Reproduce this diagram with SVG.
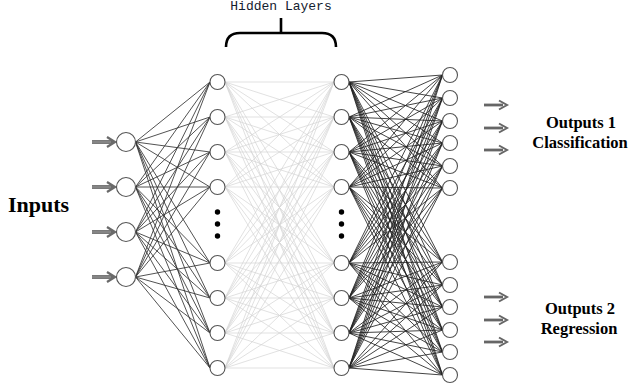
<svg xmlns="http://www.w3.org/2000/svg" xmlns:xlink="http://www.w3.org/1999/xlink" width="629" height="387" viewBox="0 0 629 387">
<style>
.n{fill:#fff;stroke:#555;stroke-width:1.1}
.dot{fill:#000}
.e1{fill:none;stroke:#333;stroke-width:0.85}
.e2{fill:none;stroke:#d4d4d4;stroke-width:0.7}
.e3{fill:none;stroke:#222;stroke-width:0.85}
.lbl{font-family:"Liberation Serif","Times New Roman",serif;font-weight:bold;fill:#000}
.hl{font-family:"Liberation Mono","DejaVu Sans Mono",monospace;font-size:13px;fill:#14202e}
</style>
<defs>
<g id="arr">
<path d="M0 0H21" stroke="#6a6a6a" stroke-width="3.8" fill="none"/>
<path d="M0 0H19" stroke="#a0a0a0" stroke-width="1" fill="none"/>
<path d="M15 -5L23 0L15 5" stroke="#6a6a6a" stroke-width="2.3" fill="none"/>
</g>
<g id="arr2">
<path d="M0 0H19" stroke="#666" stroke-width="2.8" fill="none"/>
<path d="M15 -4.5L23 0L15 4.5" stroke="#666" stroke-width="2" fill="none"/>
</g>
</defs>
<rect width="629" height="387" fill="#fff"/>

<g id="connectors">
<path class="e1" d="M135.5 142L210 82M135.5 142L210 117M135.5 142L210 152M135.5 142L210 187M135.5 142L210 263M135.5 142L210 298M135.5 142L210 333M135.5 142L210 368
M135.5 187L210 82M135.5 187L210 117M135.5 187L210 152M135.5 187L210 187M135.5 187L210 263M135.5 187L210 298M135.5 187L210 333M135.5 187L210 368
M135.5 232L210 82M135.5 232L210 117M135.5 232L210 152M135.5 232L210 187M135.5 232L210 263M135.5 232L210 298M135.5 232L210 333M135.5 232L210 368
M135.5 277L210 82M135.5 277L210 117M135.5 277L210 152M135.5 277L210 187M135.5 277L210 263M135.5 277L210 298M135.5 277L210 333M135.5 277L210 368"/>
<path class="e2" d="M225 82L334 82M225 82L334 117M225 82L334 152M225 82L334 187M225 82L334 263M225 82L334 298M225 82L334 333M225 82L334 368
M225 117L334 82M225 117L334 117M225 117L334 152M225 117L334 187M225 117L334 263M225 117L334 298M225 117L334 333M225 117L334 368
M225 152L334 82M225 152L334 117M225 152L334 152M225 152L334 187M225 152L334 263M225 152L334 298M225 152L334 333M225 152L334 368
M225 187L334 82M225 187L334 117M225 187L334 152M225 187L334 187M225 187L334 263M225 187L334 298M225 187L334 333M225 187L334 368
M225 263L334 82M225 263L334 117M225 263L334 152M225 263L334 187M225 263L334 263M225 263L334 298M225 263L334 333M225 263L334 368
M225 298L334 82M225 298L334 117M225 298L334 152M225 298L334 187M225 298L334 263M225 298L334 298M225 298L334 333M225 298L334 368
M225 333L334 82M225 333L334 117M225 333L334 152M225 333L334 187M225 333L334 263M225 333L334 298M225 333L334 333M225 333L334 368
M225 368L334 82M225 368L334 117M225 368L334 152M225 368L334 187M225 368L334 263M225 368L334 298M225 368L334 333M225 368L334 368"/>
<path class="e3" d="M349 82L442.5 75M349 82L442.5 98M349 82L442.5 121M349 82L442.5 143M349 82L442.5 166M349 82L442.5 188M349 82L442.5 262M349 82L442.5 285M349 82L442.5 307M349 82L442.5 330M349 82L442.5 352M349 82L442.5 375
M349 117L442.5 75M349 117L442.5 98M349 117L442.5 121M349 117L442.5 143M349 117L442.5 166M349 117L442.5 188M349 117L442.5 262M349 117L442.5 285M349 117L442.5 307M349 117L442.5 330M349 117L442.5 352M349 117L442.5 375
M349 152L442.5 75M349 152L442.5 98M349 152L442.5 121M349 152L442.5 143M349 152L442.5 166M349 152L442.5 188M349 152L442.5 262M349 152L442.5 285M349 152L442.5 307M349 152L442.5 330M349 152L442.5 352M349 152L442.5 375
M349 187L442.5 75M349 187L442.5 98M349 187L442.5 121M349 187L442.5 143M349 187L442.5 166M349 187L442.5 188M349 187L442.5 262M349 187L442.5 285M349 187L442.5 307M349 187L442.5 330M349 187L442.5 352M349 187L442.5 375
M349 263L442.5 75M349 263L442.5 98M349 263L442.5 121M349 263L442.5 143M349 263L442.5 166M349 263L442.5 188M349 263L442.5 262M349 263L442.5 285M349 263L442.5 307M349 263L442.5 330M349 263L442.5 352M349 263L442.5 375
M349 298L442.5 75M349 298L442.5 98M349 298L442.5 121M349 298L442.5 143M349 298L442.5 166M349 298L442.5 188M349 298L442.5 262M349 298L442.5 285M349 298L442.5 307M349 298L442.5 330M349 298L442.5 352M349 298L442.5 375
M349 333L442.5 75M349 333L442.5 98M349 333L442.5 121M349 333L442.5 143M349 333L442.5 166M349 333L442.5 188M349 333L442.5 262M349 333L442.5 285M349 333L442.5 307M349 333L442.5 330M349 333L442.5 352M349 333L442.5 375
M349 368L442.5 75M349 368L442.5 98M349 368L442.5 121M349 368L442.5 143M349 368L442.5 166M349 368L442.5 188M349 368L442.5 262M349 368L442.5 285M349 368L442.5 307M349 368L442.5 330M349 368L442.5 352M349 368L442.5 375"/>
<use href="#arr" xlink:href="#arr" x="92" y="142"/>
<use href="#arr" xlink:href="#arr" x="92" y="187"/>
<use href="#arr" xlink:href="#arr" x="92" y="232"/>
<use href="#arr" xlink:href="#arr" x="92" y="277"/>
<use href="#arr2" xlink:href="#arr2" x="484" y="105"/>
<use href="#arr2" xlink:href="#arr2" x="484" y="128"/>
<use href="#arr2" xlink:href="#arr2" x="484" y="150"/>
<use href="#arr2" xlink:href="#arr2" x="484" y="297"/>
<use href="#arr2" xlink:href="#arr2" x="484" y="320"/>
<use href="#arr2" xlink:href="#arr2" x="484" y="342"/>
</g>

<g id="input-layer">
<g id="in1"><circle class="n" cx="126" cy="142" r="9.5"/></g>
<g id="in2"><circle class="n" cx="126" cy="187" r="9.5"/></g>
<g id="in3"><circle class="n" cx="126" cy="232" r="9.5"/></g>
<g id="in4"><circle class="n" cx="126" cy="277" r="9.5"/></g>
</g>
<g id="hidden-1">
<g id="h1n1"><circle class="n" cx="217.5" cy="82" r="7.5"/></g>
<g id="h1n2"><circle class="n" cx="217.5" cy="117" r="7.5"/></g>
<g id="h1n3"><circle class="n" cx="217.5" cy="152" r="7.5"/></g>
<g id="h1n4"><circle class="n" cx="217.5" cy="187" r="7.5"/></g>
<g id="h1dots"><circle class="dot" cx="217.5" cy="212" r="2.7"/><circle class="dot" cx="217.5" cy="224" r="2.7"/><circle class="dot" cx="217.5" cy="236" r="2.7"/></g>
<g id="h1n5"><circle class="n" cx="217.5" cy="263" r="7.5"/></g>
<g id="h1n6"><circle class="n" cx="217.5" cy="298" r="7.5"/></g>
<g id="h1n7"><circle class="n" cx="217.5" cy="333" r="7.5"/></g>
<g id="h1n8"><circle class="n" cx="217.5" cy="368" r="7.5"/></g>
</g>
<g id="hidden-2">
<g id="h2n1"><circle class="n" cx="341.5" cy="82" r="7.5"/></g>
<g id="h2n2"><circle class="n" cx="341.5" cy="117" r="7.5"/></g>
<g id="h2n3"><circle class="n" cx="341.5" cy="152" r="7.5"/></g>
<g id="h2n4"><circle class="n" cx="341.5" cy="187" r="7.5"/></g>
<g id="h2dots"><circle class="dot" cx="341.5" cy="212" r="2.7"/><circle class="dot" cx="341.5" cy="224" r="2.7"/><circle class="dot" cx="341.5" cy="236" r="2.7"/></g>
<g id="h2n5"><circle class="n" cx="341.5" cy="263" r="7.5"/></g>
<g id="h2n6"><circle class="n" cx="341.5" cy="298" r="7.5"/></g>
<g id="h2n7"><circle class="n" cx="341.5" cy="333" r="7.5"/></g>
<g id="h2n8"><circle class="n" cx="341.5" cy="368" r="7.5"/></g>
</g>
<g id="output-layer">
<g id="o1"><circle class="n" cx="450" cy="75" r="7.5"/></g>
<g id="o2"><circle class="n" cx="450" cy="98" r="7.5"/></g>
<g id="o3"><circle class="n" cx="450" cy="121" r="7.5"/></g>
<g id="o4"><circle class="n" cx="450" cy="143" r="7.5"/></g>
<g id="o5"><circle class="n" cx="450" cy="166" r="7.5"/></g>
<g id="o6"><circle class="n" cx="450" cy="188" r="7.5"/></g>
<g id="o7"><circle class="n" cx="450" cy="262" r="7.5"/></g>
<g id="o8"><circle class="n" cx="450" cy="285" r="7.5"/></g>
<g id="o9"><circle class="n" cx="450" cy="307" r="7.5"/></g>
<g id="o10"><circle class="n" cx="450" cy="330" r="7.5"/></g>
<g id="o11"><circle class="n" cx="450" cy="352" r="7.5"/></g>
<g id="o12"><circle class="n" cx="450" cy="375" r="7.5"/></g>
</g>

<g id="hidden-label">
<text class="hl" x="281" y="10" text-anchor="middle">Hidden Layers</text>
<path d="M226 47Q226 33 240 33H322Q336 33 336 47M281 18V33" fill="none" stroke="#000" stroke-width="2.6"/>
</g>
<g id="inputs-label"><text class="lbl" x="8" y="212" font-size="22">Inputs</text></g>
<g id="outputs1-label">
<text class="lbl" x="581" y="128" font-size="16.5" text-anchor="middle">Outputs 1</text>
<text class="lbl" x="580" y="148" font-size="16.5" text-anchor="middle">Classification</text>
</g>
<g id="outputs2-label">
<text class="lbl" x="580" y="314" font-size="16.5" text-anchor="middle">Outputs 2</text>
<text class="lbl" x="579" y="334" font-size="16.5" text-anchor="middle">Regression</text>
</g>
</svg>
